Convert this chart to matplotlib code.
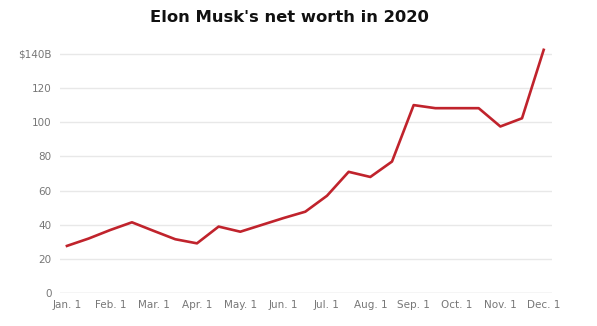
import matplotlib
matplotlib.use("Agg")
import matplotlib.pyplot as plt

# Semi-monthly positions in months since Jan 1
months = [0, 0.5, 1, 1.5, 2, 2.5, 3, 3.5, 4, 4.5, 5, 5.5, 6, 6.5, 7, 7.5, 8, 8.5, 9, 9.5, 10, 10.5, 11]
net_worth = [27.7, 32, 37, 41.5, 36.5, 31.6, 29.2, 39, 36, 40, 44, 47.7, 57, 71, 68, 77, 110, 108.2, 108.2, 108.2, 97.5, 102.3, 142.3]

tick_pos = list(range(12))
tick_labels = ["Jan. 1", "Feb. 1", "Mar. 1", "Apr. 1", "May. 1", "Jun. 1",
               "Jul. 1", "Aug. 1", "Sep. 1", "Oct. 1", "Nov. 1", "Dec. 1"]
y_ticks = [0, 20, 40, 60, 80, 100, 120, 140]
y_labels = ["0", "20", "40", "60", "80", "100", "120", "$140B"]

fig = plt.figure(figsize=(5.97, 3.26), dpi=100)
ax = fig.add_axes([0.1005, 0.1003, 0.824, 0.761])

for v in y_ticks:
    ax.axhline(v, color="#cccccc" if v == 0 else "#e8e8e8", lw=1.0, zorder=1)

ax.plot(months, net_worth, color="#c0232c", lw=1.9, zorder=3)

ax.set_xlim(-0.16, 11.19)
ax.set_ylim(0, 145)
ax.set_xticks(tick_pos)
ax.set_xticklabels(tick_labels)
ax.set_yticks(y_ticks)
ax.set_yticklabels(y_labels)
ax.tick_params(axis="both", length=0, labelsize=7.5, labelcolor="#777777")
ax.tick_params(axis="x", pad=5)
ax.tick_params(axis="y", pad=6)
for s in ax.spines.values():
    s.set_visible(False)

fig.text(0.484, 0.947, "Elon Musk's net worth in 2020", ha="center", va="center",
         fontsize=11.8, fontweight="bold", color="#111111")

fig.savefig("out.png", dpi=100, facecolor="white")
